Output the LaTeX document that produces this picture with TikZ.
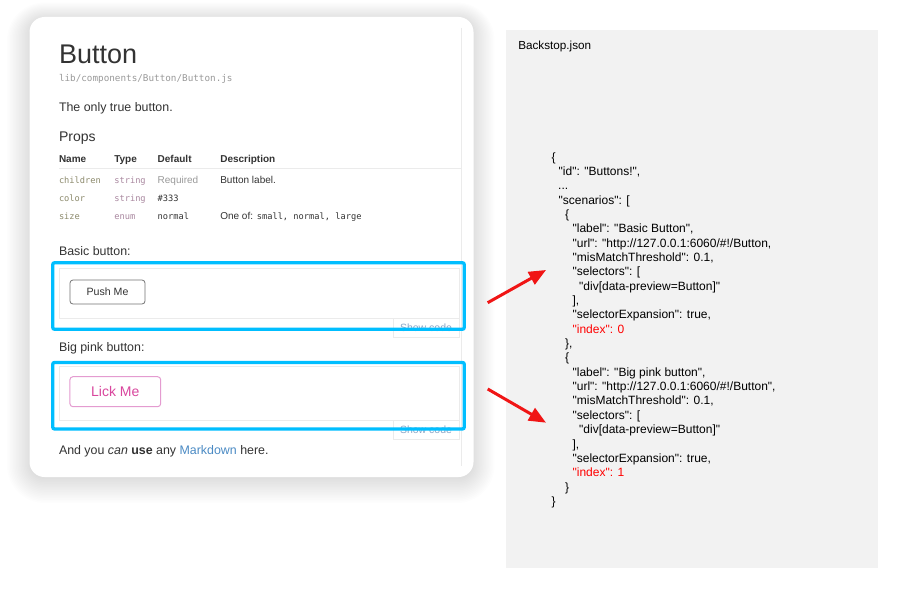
\documentclass[tikz,border=0pt]{standalone}
\usepackage{fontspec}
\setmainfont{Liberation Sans}
\setmonofont{DejaVu Sans Mono}
\newfontfamily\jsonfont{Liberation Sans}
\usetikzlibrary{arrows.meta}
\definecolor{ink}{HTML}{333333}
\definecolor{pathgrey}{HTML}{9A9A9A}
\definecolor{propname}{HTML}{8C8A6C}
\definecolor{proptype}{HTML}{A9879F}
\definecolor{faint}{HTML}{EBEBEB}
\definecolor{linkblue}{HTML}{4A8AC4}
\definecolor{showcode}{HTML}{8AA7C8}
\definecolor{pinkborder}{HTML}{E49BD0}
\definecolor{pinktext}{HTML}{D9479E}
\definecolor{selblue}{RGB}{0,190,255}
\definecolor{panelgrey}{HTML}{F2F2F2}
\definecolor{jsonred}{HTML}{FF0000}
\definecolor{arrowred}{HTML}{F01515}
\newcommand\myfs[1]{\fontsize{#1}{#1}\selectfont}
\newcommand\jline[4]{\node[json] (#1) at (#2,{161+14.35*#3}) {#4};}
\begin{document}
\begin{tikzpicture}[x=1pt,y=-1pt,
  txt/.style={inner sep=0pt, outer sep=0pt, anchor=base west, text=ink},
  body/.style={txt, font=\myfs{12.4}},
  head/.style={txt, font=\bfseries\myfs{10}},
  cell/.style={txt, font=\myfs{10}},
  mono/.style={txt, font=\ttfamily\myfs{8.7}},
  json/.style={txt, text=black, font=\jsonfont\myfs{12}},
  faintbox/.style={draw=faint, line width=0.6pt, inner sep=0pt, minimum width=#1},
  selbox/.style={draw=selblue, line width=3.3pt, rounded corners=2pt, inner sep=0pt,
    minimum width=411.6pt, minimum height=66.6pt},
  redarrow/.style={draw=arrowred, line width=3pt, -{Triangle[length=17pt,width=14pt]}},
  showcodetxt/.style={txt, text=showcode, font=\myfs{10.5}}]
\useasboundingbox (0,0) rectangle (912,607);
\fill[white] (0,0) rectangle (912,607);
% card shadow
\foreach \i in {0,...,15}{
  \pgfmathsetmacro\rr{15+\i*1.5}
  \fill[black, opacity=0.009, rounded corners=\rr pt]
    (29.5-\i*1.5, 19-\i*1.1) rectangle (473.5+\i*1.4, 479+\i*1.6);
}
% card
\node[fill=white, rounded corners=15pt, inner sep=0pt, minimum width=444pt, minimum height=460pt]
  (card) at (251.5,247) {};
\draw[faint, line width=0.6pt] (461,28) coordinate (vtop) -- (461,466) coordinate (vbot);
% texts
\node[txt, font=\myfs{27}] (title) at (59,64) {Button};
\node[txt, font=\ttfamily\myfs{9.3}, text=pathgrey] (path) at (59,82) {lib/components/Button/Button.js};
\node[body] (lead) at (59,111) {The only true button.};
\node[txt, font=\myfs{14}] (props) at (59,141) {Props};
\node[head] (hname) at (59,162) {Name};
\node[head] (htype) at (114.3,162) {Type};
\node[head] (hdef) at (157.7,162) {Default};
\node[head] (hdesc) at (220.3,162) {Description};
\draw[faint, line width=0.6pt] (59,168) coordinate (hl) -- (461,168) coordinate (hr);
\node[mono, text=propname] (r1n) at (59,183) {children};
\node[mono, text=proptype] (r1t) at (114.3,183) {string};
\node[cell, text=pathgrey] (r1d) at (157.7,183) {Required};
\node[cell] (r1x) at (220.3,183) {Button label.};
\node[mono, text=propname] (r2n) at (59,201.5) {color};
\node[mono, text=proptype] (r2t) at (114.3,201.5) {string};
\node[mono] (r2d) at (157.7,201.5) {\#333};
\node[mono, text=propname] (r3n) at (59,219) {size};
\node[mono, text=proptype] (r3t) at (114.3,219) {enum};
\node[mono] (r3d) at (157.7,219) {normal};
\node[cell] (r3x) at (220.3,219) {One of: {\ttfamily\myfs{8.7}small, normal, large}};
\node[body] (basic) at (59,255) {Basic button:};
% preview 1
\node[faintbox=66pt, minimum height=19pt] (tab1) at (426,327.5) {};
\node[showcodetxt] (sc1) at (400,331) {Show code};
\node[faintbox=399.7pt, minimum height=50pt, fill=white] (prev1) at (259.15,293) {};
\node[draw=black!55, line width=0.8pt, rounded corners=3pt, inner sep=0pt,
  minimum width=75pt, minimum height=24pt, text=ink, font=\myfs{10.6}] (push) at (107.5,292) {Push Me};
\node[selbox] (box1) at (258.5,296) {};
\node[body] (big) at (59,351) {Big pink button:};
% preview 2
\node[faintbox=66pt, minimum height=19pt] (tab2) at (426,429.5) {};
\node[showcodetxt] (sc2) at (400,433) {Show code};
\node[faintbox=399.7pt, minimum height=54pt, fill=white] (prev2) at (259.15,393) {};
\node[draw=pinkborder, line width=1pt, rounded corners=3pt, inner sep=0pt,
  minimum width=90.7pt, minimum height=30pt, text=pinktext, font=\myfs{14}] (lick) at (115.3,391.7) {Lick Me};
\node[selbox] (box2) at (258.5,395.7) {};
\node[body] (md) at (59,454) {And you \textit{can} \textbf{use} any \textcolor{linkblue}{Markdown} here.};
% right panel
\node[fill=panelgrey, inner sep=0pt, minimum width=371.7pt, minimum height=538pt] (panel) at (691.85,299) {};
\node[txt, text=black, font=\myfs{11.7}] (bsj) at (518.3,50) {Backstop.json};
\jline{j0}{551.7}{0}{\{}
\jline{j1}{558.7}{1}{"id": "Buttons!",}
\jline{j2}{558.2}{2}{...}
\jline{j3}{558.7}{3}{"scenarios": [}
\jline{j4}{565.2}{4}{\{}
\jline{j5}{572.6}{5}{"label": "Basic Button",}
\jline{j6}{572.6}{6}{"url": "http://127.0.0.1:6060/\#!/Button,}
\jline{j7}{572.6}{7}{"misMatchThreshold": 0.1,}
\jline{j8}{572.6}{8}{"selectors": [}
\jline{j9}{579.2}{9}{"div[data-preview=Button]"}
\jline{j10}{572.6}{10}{],}
\jline{j11}{572.6}{11}{"selectorExpansion": true,}
\jline{j12}{572.6}{12}{\textcolor{jsonred}{"index": 0}}
\jline{j13}{565.2}{13}{\},}
\jline{j14}{565.2}{14}{\{}
\jline{j15}{572.6}{15}{"label": "Big pink button",}
\jline{j16}{572.6}{16}{"url": "http://127.0.0.1:6060/\#!/Button",}
\jline{j17}{572.6}{17}{"misMatchThreshold": 0.1,}
\jline{j18}{572.6}{18}{"selectors": [}
\jline{j19}{579.2}{19}{"div[data-preview=Button]"}
\jline{j20}{572.6}{20}{],}
\jline{j21}{572.6}{21}{"selectorExpansion": true,}
\jline{j22}{572.6}{22}{\textcolor{jsonred}{"index": 1}}
\jline{j23}{565.2}{23}{\}}
\jline{j24}{551.7}{24}{\}}
% arrows
\coordinate (a1s) at (487.7,302.7);
\coordinate (a1e) at (546,270);
\coordinate (a2s) at (487.7,389);
\coordinate (a2e) at (546,422.7);
\draw[redarrow] (a1s) -- (a1e);
\draw[redarrow] (a2s) -- (a2e);
\end{tikzpicture}
\end{document}
